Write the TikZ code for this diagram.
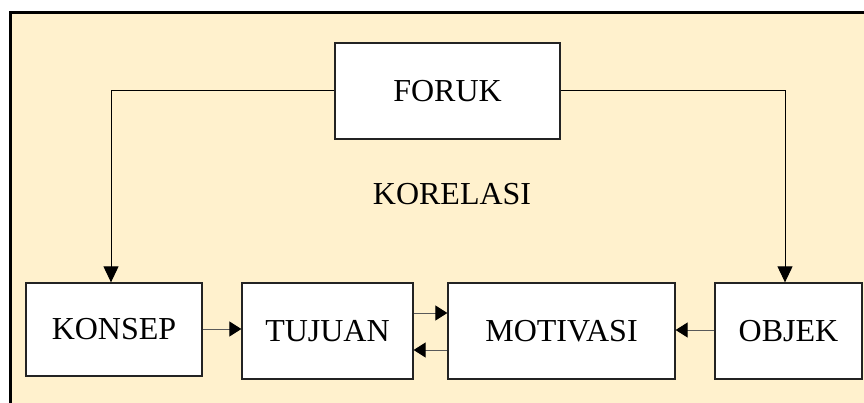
\documentclass[tikz,border=0pt]{standalone}
\usepackage{fontspec}
\setmainfont{Liberation Serif}
\usetikzlibrary{arrows.meta}
\definecolor{cream}{RGB}{255,241,205}
\definecolor{boxline}{RGB}{35,35,35}
\begin{document}
\begin{tikzpicture}[x=1pt,y=-1pt,
  blk/.style={draw=boxline,line width=1.3pt,fill=white,inner sep=0pt,
    font=\fontsize{32}{37}\selectfont},
  conn/.style={draw=black,line width=1pt,-{Triangle[length=16pt,width=15pt,fill=black]}},
  hconn/.style={draw=black!65,line width=1pt,-{Triangle[length=12pt,width=15pt,fill=black,color=black]}}]
\useasboundingbox (0,0) rectangle (864,403);
\clip (0,0) rectangle (864,403);
\fill[white] (0,0) rectangle (864,403);
\draw[line width=3pt,fill=cream] (10,13) rectangle (880,420);
\node[blk,minimum width=225pt,minimum height=96pt] (foruk) at (447.5,91) {FORUK};
\node[font=\fontsize{32}{37}\selectfont] (korelasi) at (452,194) {KORELASI};
\node[blk,minimum width=176pt,minimum height=93pt] (konsep) at (114,329.5) {KONSEP};
\node[blk,minimum width=171pt,minimum height=96pt] (tujuan) at (327.5,331) {TUJUAN};
\node[blk,minimum width=227pt,minimum height=96pt] (motivasi) at (561.5,331) {MOTIVASI};
\node[blk,minimum width=147pt,minimum height=96pt] (objek) at (788.5,331) {OBJEK};
\coordinate (lc) at (111,91);
\coordinate (rc) at (785,91);
\draw[conn] (foruk.west) -- (lc) -- (lc |- konsep.north);
\draw[conn] (foruk.east) -- (rc) -- (rc |- objek.north);
\draw[hconn] (konsep.east |- 0,329) -- (tujuan.west |- 0,329);
\draw[hconn] (tujuan.east |- 0,313) -- (motivasi.west |- 0,313);
\draw[hconn] (motivasi.west |- 0,350) -- (tujuan.east |- 0,350);
\draw[hconn] (objek.west |- 0,330) -- (motivasi.east |- 0,330);
\end{tikzpicture}
\end{document}
